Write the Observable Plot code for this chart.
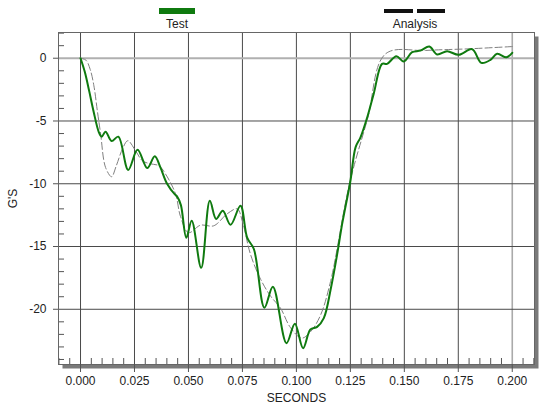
<!DOCTYPE html>
<html>
<head>
<meta charset="utf-8">
<script src="https://cdn.jsdelivr.net/npm/d3@7"></script>
<script src="https://cdn.jsdelivr.net/npm/@observablehq/plot@0.6"></script>
<style>
  html, body { margin: 0; padding: 0; background: #fff; }
  #wrap { position: relative; width: 540px; height: 404px; font-family: "Liberation Sans", Arial, sans-serif; color: #222; }
  .lg-bar { position: absolute; }
  .lg-txt { position: absolute; font-size: 12px; line-height: 12px; transform: translateX(-50%); white-space: nowrap; }
</style>
</head>
<body>
<div id="wrap"></div>
<script>
// Test (measured) series
const testT = [0, 0.002, 0.004, 0.006, 0.0085, 0.0098, 0.0116, 0.0144, 0.0175, 0.0221, 0.0264, 0.0309, 0.0344, 0.037, 0.0401, 0.0437, 0.0447, 0.0465, 0.049, 0.0515, 0.0559, 0.0599, 0.0628, 0.0659, 0.0695, 0.0741, 0.0772, 0.0803, 0.0852, 0.0891, 0.0954, 0.0993, 0.1031, 0.1065, 0.1096, 0.1127, 0.1160, 0.1189, 0.1212, 0.125, 0.1274, 0.1297, 0.1330, 0.1358, 0.1397, 0.142, 0.1463, 0.1497, 0.1536, 0.1575, 0.1616, 0.1652, 0.1698, 0.1752, 0.1814, 0.1857, 0.1899, 0.193, 0.1973, 0.2];
const testG = [0, -1.1, -2.6, -4.2, -5.9, -6.25, -5.85, -6.6, -6.25, -8.9, -7.3, -8.75, -7.8, -8.7, -10.0, -10.85, -11.0, -11.7, -14.3, -12.95, -16.7, -11.36, -12.8, -12.15, -13.27, -11.76, -14.3, -15.2, -19.87, -18.2, -22.7, -21.15, -23.1, -21.6, -21.4, -20.7, -18.3, -15.6, -13.2, -9.8, -7.1, -6.3, -4.6, -2.84, -0.45, -0.45, 0.16, -0.26, 0.48, 0.61, 0.93, 0.3, 0.56, 0.27, 0.72, -0.37, -0.13, 0.35, 0.08, 0.43];

// Analysis (simulated) series
const anaT = [0, 0.0025, 0.0045, 0.0062, 0.0078, 0.0093, 0.0116, 0.0144, 0.0165, 0.0195, 0.0219, 0.0255, 0.0286, 0.032, 0.0363, 0.0394, 0.044, 0.0463, 0.05, 0.0556, 0.0617, 0.0679, 0.0726, 0.075, 0.0787, 0.0834, 0.088, 0.0926, 0.0973, 0.1025, 0.1065, 0.1111, 0.1158, 0.1246, 0.133, 0.1413, 0.16, 0.18, 0.2];
const anaG = [0, -0.15, -0.9, -2.2, -4.2, -6.0, -8.7, -9.44, -8.6, -7.2, -6.57, -7.37, -8.16, -8.4, -8.56, -9.23, -10.8, -12.6, -13.9, -13.3, -13.35, -12.4, -12.0, -13.0, -15.6, -17.6, -18.94, -19.9, -21.47, -22.3, -21.8, -20.5, -17.8, -10.0, -4.8, 0.35, 0.62, 0.75, 0.93];

const seriesNames = ["Test", "Analysis"];
const xMajor = [0, 0.025, 0.05, 0.075, 0.1, 0.125, 0.15, 0.175, 0.2];
const xMinor = d3.range(-10, 211, 5).map(v => v / 1000).filter(v => !xMajor.some(m => Math.abs(m - v) < 1e-9));
const yMajor = [0, -5, -10, -15, -20];
const yMinor = d3.range(-24, 3, 1).filter(v => v % 5 !== 0);

const testData = testT.map((t, i) => ({t, g: testG[i]}));
const anaData = anaT.map((t, i) => ({t, g: anaG[i]}));

const green = "#0f7a0f";
const gridCol = "#4a4a4a";

const chart = Plot.plot({
  width: 540,
  height: 404,
  marginLeft: 58,
  marginRight: 6,
  marginTop: 32,
  marginBottom: 40,
  style: { fontFamily: "'Liberation Sans', Arial, sans-serif", fontSize: "12px", color: "#222", background: "transparent" },
  x: { domain: [-0.0102, 0.2103] },
  y: { domain: [-24.4, 2.05] },
  marks: [
    Plot.frame({ fill: "#7a7a7a", dx: 4, dy: 4 }),
    Plot.frame({ fill: "white" }),
    Plot.gridX(xMajor.filter(v => v !== 0.2), { stroke: gridCol, strokeOpacity: 1 }),
    Plot.gridX([0.2], { stroke: "#aaa", strokeOpacity: 1, strokeWidth: 1.6 }),
    Plot.gridY(yMajor.filter(v => v !== 0), { stroke: gridCol, strokeOpacity: 1 }),
    Plot.gridY([0], { stroke: "#b0b0b0", strokeOpacity: 1, strokeWidth: 1.8 }),
    Plot.axisX(xMinor, { tickSize: -6, tickFormat: () => "", label: null, stroke: "#555" }),
    Plot.axisY(yMinor, { tickSize: -6, tickFormat: () => "", label: null, stroke: "#555" }),
    Plot.line(anaData, { x: "t", y: "g", stroke: "#808080", strokeWidth: 1, strokeDasharray: "7,3", curve: "catmull-rom" }),
    Plot.line(testData, { x: "t", y: "g", stroke: green, strokeWidth: 2, curve: "catmull-rom" }),
    Plot.frame({ stroke: "#666" }),
    Plot.axisX(xMajor, { tickSize: 8, tickPadding: 4, tickFormat: d3.format(".3f"), stroke: "#555", fill: "#222",
      label: "SECONDS", labelAnchor: "center", labelArrow: "none", labelOffset: 37 }),
    Plot.axisY(yMajor, { tickSize: 5, tickPadding: 7, tickFormat: d => String(d).replace("−", "-"), stroke: "#555", fill: "#222",
      label: "G'S", labelAnchor: "center", labelArrow: "none", labelOffset: 50 })
  ]
});

const wrap = document.getElementById("wrap");
wrap.appendChild(chart);
chart.style.position = "absolute";
chart.style.left = "0px";
chart.style.top = "0px";

// Legend (HTML, above the plot frame)
function addBar(left, top, w, h, color) {
  const d = document.createElement("div");
  d.className = "lg-bar";
  Object.assign(d.style, { left: left + "px", top: top + "px", width: w + "px", height: h + "px", background: color });
  wrap.appendChild(d);
}
function addText(cx, top, txt) {
  const d = document.createElement("div");
  d.className = "lg-txt";
  d.textContent = txt;
  Object.assign(d.style, { left: cx + "px", top: top + "px" });
  wrap.appendChild(d);
}
addBar(159, 8, 36, 6, green);
addText(177, 18, seriesNames[0]);
addBar(384, 9, 29, 4, "#111");
addBar(417, 9, 28, 4, "#111");
addText(415, 18, seriesNames[1]);
</script>
</body>
</html>
